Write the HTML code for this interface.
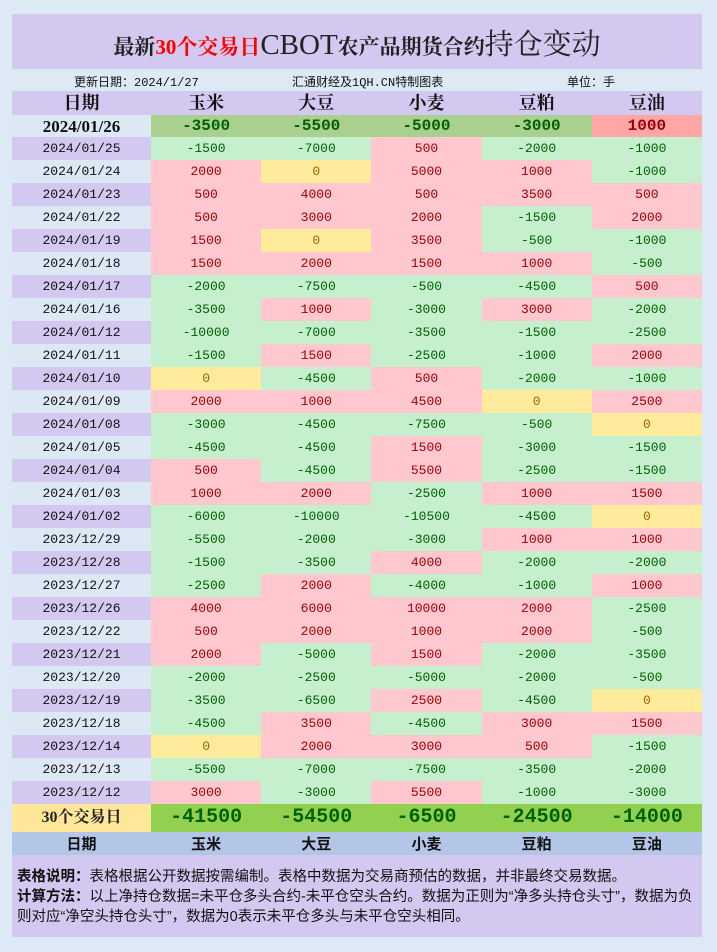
<!DOCTYPE html>
<html><head><meta charset="utf-8"><style>
*{margin:0;padding:0;box-sizing:border-box}
body{width:717px;height:952px;background:#dde9f5;position:relative;overflow:hidden;font-family:"Liberation Sans","Noto Sans CJK SC",sans-serif}
#title{position:absolute;left:12px;top:14px;width:690px;height:55px;background:#d3c8f0;text-align:center;line-height:62px;font-family:"Liberation Serif","Noto Serif CJK SC",serif;color:#222;font-size:21px;font-weight:bold;white-space:nowrap}
#title .r{color:#f00}
#title .big{font-size:29px;font-weight:normal}
#info{position:absolute;left:12px;top:69px;width:690px;height:22px;font-size:12px;color:#111;font-family:"Liberation Mono","Noto Sans CJK SC",monospace}
#info span{position:absolute;top:4px}
table{position:absolute;left:12px;top:91px;width:690px;border-collapse:collapse;table-layout:fixed}
td{padding:0;text-align:center;height:23px;line-height:1;font-family:"Liberation Mono","Noto Sans CJK SC",monospace;font-size:13px;color:#111;overflow:hidden;white-space:nowrap}
col.d{width:139px}
tr.h td{background:#d3c8f0;height:24px;font-family:"Liberation Serif","Noto Serif CJK SC",serif;font-size:18px;font-weight:bold}
tr td:first-child{background:#d3c8f0}
tr.a td:first-child{background:#dce9f5}
.n{background:#c6efce;color:#006100}
.p{background:#ffc7ce;color:#9c0006}
.z{background:#ffeb9c;color:#9c6500}
tr.f td{height:22px;font-size:16px;font-weight:bold}
tr.f td:first-child{font-family:"Liberation Serif","Noto Serif CJK SC",serif;font-size:17px}
tr.f .n{background:#a9d08e}
tr.f .p{background:#ffa7a7}
tr.s td{height:28px;background:#92d050;color:#006100;font-size:20px;font-weight:bold;font-family:"Liberation Mono",monospace}
tr.s td:first-child{background:#ffe699;color:#222;font-size:16px;font-weight:bold;font-family:"Liberation Serif","Noto Serif CJK SC",serif}
tr.b td{background:#b4c6e7;height:24px;font-size:15px;font-weight:bold;font-family:"Liberation Sans","Noto Sans CJK SC",sans-serif}
#notes{position:absolute;left:12px;top:855px;width:690px;height:82px;background:#d3c8f0;padding:12px 5px;font-size:14.5px;line-height:20px;color:#111}
</style></head><body>
<div id="title">最新<span class="r">30个交易日</span><span class="big">CBOT</span>农产品期货合约<span class="big">持仓变动</span></div>
<div id="info"><span style="left:62px">更新日期：2024/1/27</span><span style="left:280px">汇通财经及1QH.CN特制图表</span><span style="left:555px">单位：手</span></div>
<table>
<colgroup><col class="d"><col><col><col><col><col></colgroup>
<tr class="h"><td>日期</td><td>玉米</td><td>大豆</td><td>小麦</td><td>豆粕</td><td>豆油</td></tr>
<tr class="a f"><td>2024/01/26</td><td class="n">-3500</td><td class="n">-5500</td><td class="n">-5000</td><td class="n">-3000</td><td class="p">1000</td></tr>
<tr><td>2024/01/25</td><td class="n">-1500</td><td class="n">-7000</td><td class="p">500</td><td class="n">-2000</td><td class="n">-1000</td></tr>
<tr class="a"><td>2024/01/24</td><td class="p">2000</td><td class="z">0</td><td class="p">5000</td><td class="p">1000</td><td class="n">-1000</td></tr>
<tr><td>2024/01/23</td><td class="p">500</td><td class="p">4000</td><td class="p">500</td><td class="p">3500</td><td class="p">500</td></tr>
<tr class="a"><td>2024/01/22</td><td class="p">500</td><td class="p">3000</td><td class="p">2000</td><td class="n">-1500</td><td class="p">2000</td></tr>
<tr><td>2024/01/19</td><td class="p">1500</td><td class="z">0</td><td class="p">3500</td><td class="n">-500</td><td class="n">-1000</td></tr>
<tr class="a"><td>2024/01/18</td><td class="p">1500</td><td class="p">2000</td><td class="p">1500</td><td class="p">1000</td><td class="n">-500</td></tr>
<tr><td>2024/01/17</td><td class="n">-2000</td><td class="n">-7500</td><td class="n">-500</td><td class="n">-4500</td><td class="p">500</td></tr>
<tr class="a"><td>2024/01/16</td><td class="n">-3500</td><td class="p">1000</td><td class="n">-3000</td><td class="p">3000</td><td class="n">-2000</td></tr>
<tr><td>2024/01/12</td><td class="n">-10000</td><td class="n">-7000</td><td class="n">-3500</td><td class="n">-1500</td><td class="n">-2500</td></tr>
<tr class="a"><td>2024/01/11</td><td class="n">-1500</td><td class="p">1500</td><td class="n">-2500</td><td class="n">-1000</td><td class="p">2000</td></tr>
<tr><td>2024/01/10</td><td class="z">0</td><td class="n">-4500</td><td class="p">500</td><td class="n">-2000</td><td class="n">-1000</td></tr>
<tr class="a"><td>2024/01/09</td><td class="p">2000</td><td class="p">1000</td><td class="p">4500</td><td class="z">0</td><td class="p">2500</td></tr>
<tr><td>2024/01/08</td><td class="n">-3000</td><td class="n">-4500</td><td class="n">-7500</td><td class="n">-500</td><td class="z">0</td></tr>
<tr class="a"><td>2024/01/05</td><td class="n">-4500</td><td class="n">-4500</td><td class="p">1500</td><td class="n">-3000</td><td class="n">-1500</td></tr>
<tr><td>2024/01/04</td><td class="p">500</td><td class="n">-4500</td><td class="p">5500</td><td class="n">-2500</td><td class="n">-1500</td></tr>
<tr class="a"><td>2024/01/03</td><td class="p">1000</td><td class="p">2000</td><td class="n">-2500</td><td class="p">1000</td><td class="p">1500</td></tr>
<tr><td>2024/01/02</td><td class="n">-6000</td><td class="n">-10000</td><td class="n">-10500</td><td class="n">-4500</td><td class="z">0</td></tr>
<tr class="a"><td>2023/12/29</td><td class="n">-5500</td><td class="n">-2000</td><td class="n">-3000</td><td class="p">1000</td><td class="p">1000</td></tr>
<tr><td>2023/12/28</td><td class="n">-1500</td><td class="n">-3500</td><td class="p">4000</td><td class="n">-2000</td><td class="n">-2000</td></tr>
<tr class="a"><td>2023/12/27</td><td class="n">-2500</td><td class="p">2000</td><td class="n">-4000</td><td class="n">-1000</td><td class="p">1000</td></tr>
<tr><td>2023/12/26</td><td class="p">4000</td><td class="p">6000</td><td class="p">10000</td><td class="p">2000</td><td class="n">-2500</td></tr>
<tr class="a"><td>2023/12/22</td><td class="p">500</td><td class="p">2000</td><td class="p">1000</td><td class="p">2000</td><td class="n">-500</td></tr>
<tr><td>2023/12/21</td><td class="p">2000</td><td class="n">-5000</td><td class="p">1500</td><td class="n">-2000</td><td class="n">-3500</td></tr>
<tr class="a"><td>2023/12/20</td><td class="n">-2000</td><td class="n">-2500</td><td class="n">-5000</td><td class="n">-2000</td><td class="n">-500</td></tr>
<tr><td>2023/12/19</td><td class="n">-3500</td><td class="n">-6500</td><td class="p">2500</td><td class="n">-4500</td><td class="z">0</td></tr>
<tr class="a"><td>2023/12/18</td><td class="n">-4500</td><td class="p">3500</td><td class="n">-4500</td><td class="p">3000</td><td class="p">1500</td></tr>
<tr><td>2023/12/14</td><td class="z">0</td><td class="p">2000</td><td class="p">3000</td><td class="p">500</td><td class="n">-1500</td></tr>
<tr class="a"><td>2023/12/13</td><td class="n">-5500</td><td class="n">-7000</td><td class="n">-7500</td><td class="n">-3500</td><td class="n">-2000</td></tr>
<tr><td>2023/12/12</td><td class="p">3000</td><td class="n">-3000</td><td class="p">5500</td><td class="n">-1000</td><td class="n">-3000</td></tr>
<tr class="s"><td>30个交易日</td><td>-41500</td><td>-54500</td><td>-6500</td><td>-24500</td><td>-14000</td></tr>
<tr class="b"><td>日期</td><td>玉米</td><td>大豆</td><td>小麦</td><td>豆粕</td><td>豆油</td></tr>
</table>
<div id="notes"><b>表格说明：</b>表格根据公开数据按需编制。表格中数据为交易商预估的数据，并非最终交易数据。<br><b>计算方法：</b>以上净持仓数据=未平仓多头合约-未平仓空头合约。数据为正则为“净多头持仓头寸”，数据为负则对应“净空头持仓头寸”，数据为0表示未平仓多头与未平仓空头相同。</div>
</body></html>
